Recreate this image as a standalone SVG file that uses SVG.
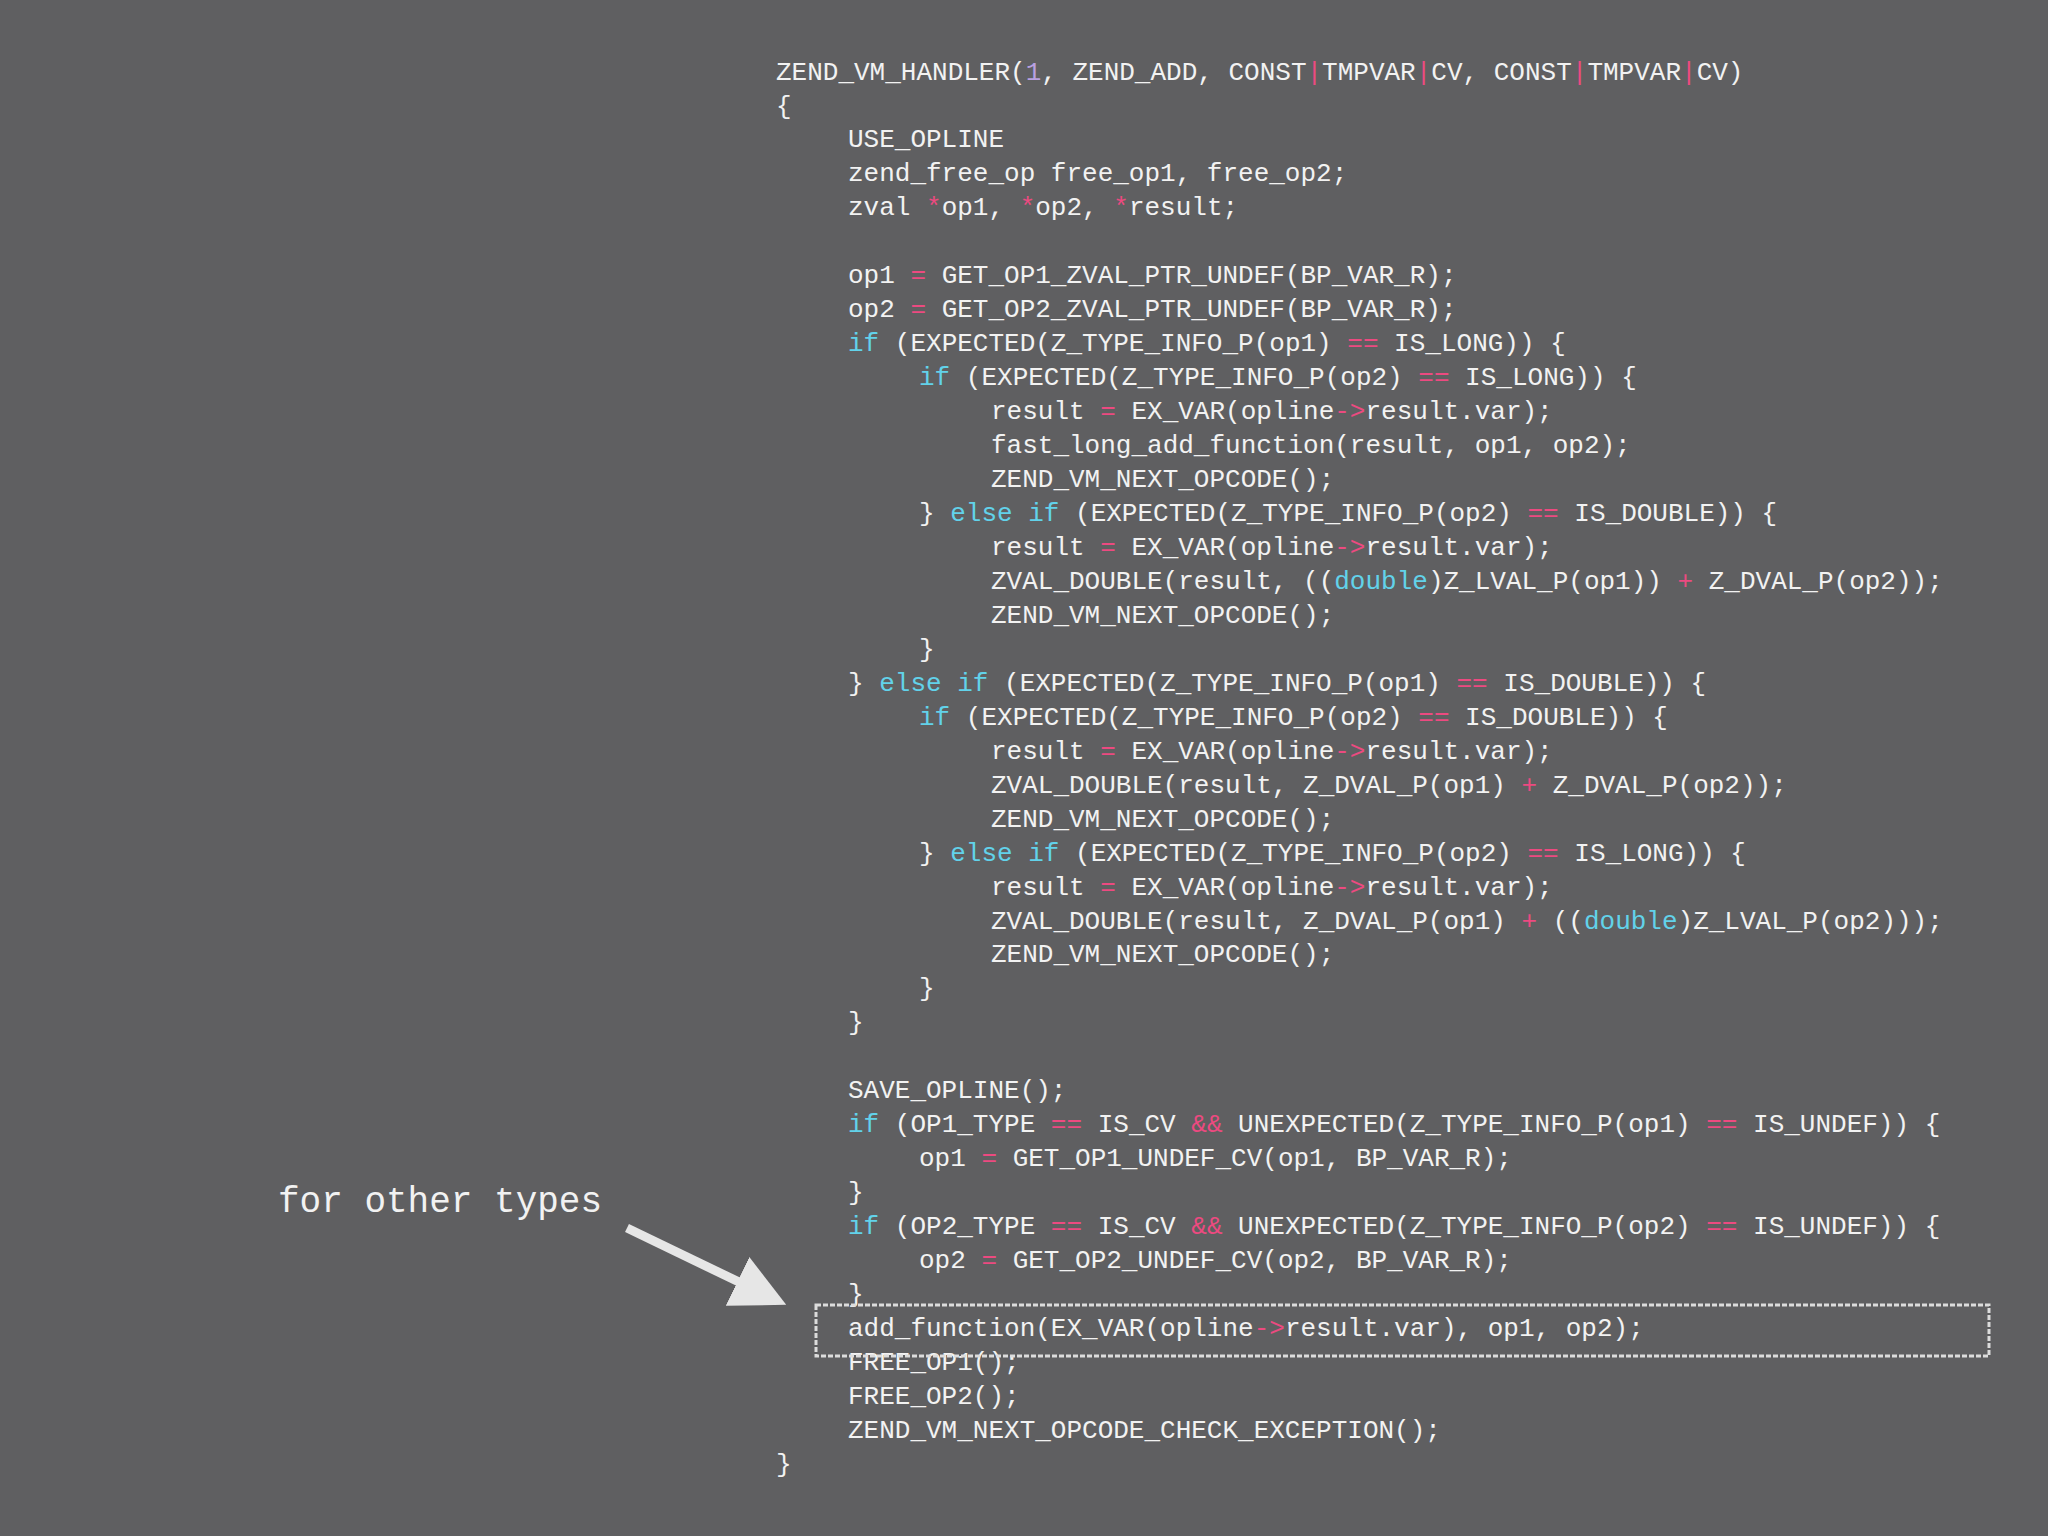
<svg xmlns="http://www.w3.org/2000/svg" width="2048" height="1536" viewBox="0 0 2048 1536">
<style>
.c{font-family:"Liberation Mono","DejaVu Sans Mono",monospace;font-size:26px;fill:#f2f2f2;white-space:pre}
.k{fill:#62d2ea}.o{fill:#ec4a80}.n{fill:#b9a0e0}
.lbl{font-family:"Liberation Mono","DejaVu Sans Mono",monospace;font-size:36px;fill:#f2f2f2;white-space:pre}
</style>
<defs><marker id="ah" markerWidth="6" markerHeight="6" refX="4" refY="3" orient="auto" markerUnits="strokeWidth"><path d="M0,0 L6,3 L0,6 Z" fill="#e6e6e6"/></marker></defs>
<rect width="2048" height="1536" fill="#5f5f61"/>
<g id="code">
<text class="c" x="776" y="79.5">ZEND_VM_HANDLER(<tspan class="n">1</tspan>, ZEND_ADD, CONST<tspan class="o">|</tspan>TMPVAR<tspan class="o">|</tspan>CV, CONST<tspan class="o">|</tspan>TMPVAR<tspan class="o">|</tspan>CV)</text>
<text class="c" x="776" y="113.5">{</text>
<text class="c" x="848" y="147.4">USE_OPLINE</text>
<text class="c" x="848" y="181.4">zend_free_op free_op1, free_op2;</text>
<text class="c" x="848" y="215.3">zval <tspan class="o">*</tspan>op1, <tspan class="o">*</tspan>op2, <tspan class="o">*</tspan>result;</text>
<text class="c" x="848" y="283.3">op1 <tspan class="o">=</tspan> GET_OP1_ZVAL_PTR_UNDEF(BP_VAR_R);</text>
<text class="c" x="848" y="317.2">op2 <tspan class="o">=</tspan> GET_OP2_ZVAL_PTR_UNDEF(BP_VAR_R);</text>
<text class="c" x="848" y="351.2"><tspan class="k">if</tspan> (EXPECTED(Z_TYPE_INFO_P(op1) <tspan class="o">==</tspan> IS_LONG)) {</text>
<text class="c" x="919" y="385.1"><tspan class="k">if</tspan> (EXPECTED(Z_TYPE_INFO_P(op2) <tspan class="o">==</tspan> IS_LONG)) {</text>
<text class="c" x="991" y="419.1">result <tspan class="o">=</tspan> EX_VAR(opline<tspan class="o">-&gt;</tspan>result.var);</text>
<text class="c" x="991" y="453.1">fast_long_add_function(result, op1, op2);</text>
<text class="c" x="991" y="487.0">ZEND_VM_NEXT_OPCODE();</text>
<text class="c" x="919" y="521.0">} <tspan class="k">else if</tspan> (EXPECTED(Z_TYPE_INFO_P(op2) <tspan class="o">==</tspan> IS_DOUBLE)) {</text>
<text class="c" x="991" y="554.9">result <tspan class="o">=</tspan> EX_VAR(opline<tspan class="o">-&gt;</tspan>result.var);</text>
<text class="c" x="991" y="588.9">ZVAL_DOUBLE(result, ((<tspan class="k">double</tspan>)Z_LVAL_P(op1)) <tspan class="o">+</tspan> Z_DVAL_P(op2));</text>
<text class="c" x="991" y="622.8">ZEND_VM_NEXT_OPCODE();</text>
<text class="c" x="919" y="656.8">}</text>
<text class="c" x="848" y="690.8">} <tspan class="k">else if</tspan> (EXPECTED(Z_TYPE_INFO_P(op1) <tspan class="o">==</tspan> IS_DOUBLE)) {</text>
<text class="c" x="919" y="724.7"><tspan class="k">if</tspan> (EXPECTED(Z_TYPE_INFO_P(op2) <tspan class="o">==</tspan> IS_DOUBLE)) {</text>
<text class="c" x="991" y="758.7">result <tspan class="o">=</tspan> EX_VAR(opline<tspan class="o">-&gt;</tspan>result.var);</text>
<text class="c" x="991" y="792.6">ZVAL_DOUBLE(result, Z_DVAL_P(op1) <tspan class="o">+</tspan> Z_DVAL_P(op2));</text>
<text class="c" x="991" y="826.6">ZEND_VM_NEXT_OPCODE();</text>
<text class="c" x="919" y="860.6">} <tspan class="k">else if</tspan> (EXPECTED(Z_TYPE_INFO_P(op2) <tspan class="o">==</tspan> IS_LONG)) {</text>
<text class="c" x="991" y="894.5">result <tspan class="o">=</tspan> EX_VAR(opline<tspan class="o">-&gt;</tspan>result.var);</text>
<text class="c" x="991" y="928.5">ZVAL_DOUBLE(result, Z_DVAL_P(op1) <tspan class="o">+</tspan> ((<tspan class="k">double</tspan>)Z_LVAL_P(op2)));</text>
<text class="c" x="991" y="962.4">ZEND_VM_NEXT_OPCODE();</text>
<text class="c" x="919" y="996.4">}</text>
<text class="c" x="848" y="1030.4">}</text>
<text class="c" x="848" y="1098.3">SAVE_OPLINE();</text>
<text class="c" x="848" y="1132.3"><tspan class="k">if</tspan> (OP1_TYPE <tspan class="o">==</tspan> IS_CV <tspan class="o">&amp;&amp;</tspan> UNEXPECTED(Z_TYPE_INFO_P(op1) <tspan class="o">==</tspan> IS_UNDEF)) {</text>
<text class="c" x="919" y="1166.2">op1 <tspan class="o">=</tspan> GET_OP1_UNDEF_CV(op1, BP_VAR_R);</text>
<text class="c" x="848" y="1200.2">}</text>
<text class="c" x="848" y="1234.1"><tspan class="k">if</tspan> (OP2_TYPE <tspan class="o">==</tspan> IS_CV <tspan class="o">&amp;&amp;</tspan> UNEXPECTED(Z_TYPE_INFO_P(op2) <tspan class="o">==</tspan> IS_UNDEF)) {</text>
<text class="c" x="919" y="1268.1">op2 <tspan class="o">=</tspan> GET_OP2_UNDEF_CV(op2, BP_VAR_R);</text>
<text class="c" x="848" y="1302.1">}</text>
<text class="c" x="848" y="1336.0">add_function(EX_VAR(opline<tspan class="o">-&gt;</tspan>result.var), op1, op2);</text>
<text class="c" x="848" y="1370.0">FREE_OP1();</text>
<text class="c" x="848" y="1403.9">FREE_OP2();</text>
<text class="c" x="848" y="1437.9">ZEND_VM_NEXT_OPCODE_CHECK_EXCEPTION();</text>
<text class="c" x="776" y="1471.9">}</text>
</g>
<g id="highlight">
<rect x="816" y="1305" width="1173" height="51" fill="none" stroke="#dcdcdc" stroke-width="3" stroke-dasharray="5 2"/>
</g>
<g id="label"><text class="lbl" x="278" y="1212">for other types</text></g>
<g id="connectors">
<line x1="627" y1="1228" x2="770" y2="1297" stroke="#e6e6e6" stroke-width="9" marker-end="url(#ah)"/>
</g>
</svg>
